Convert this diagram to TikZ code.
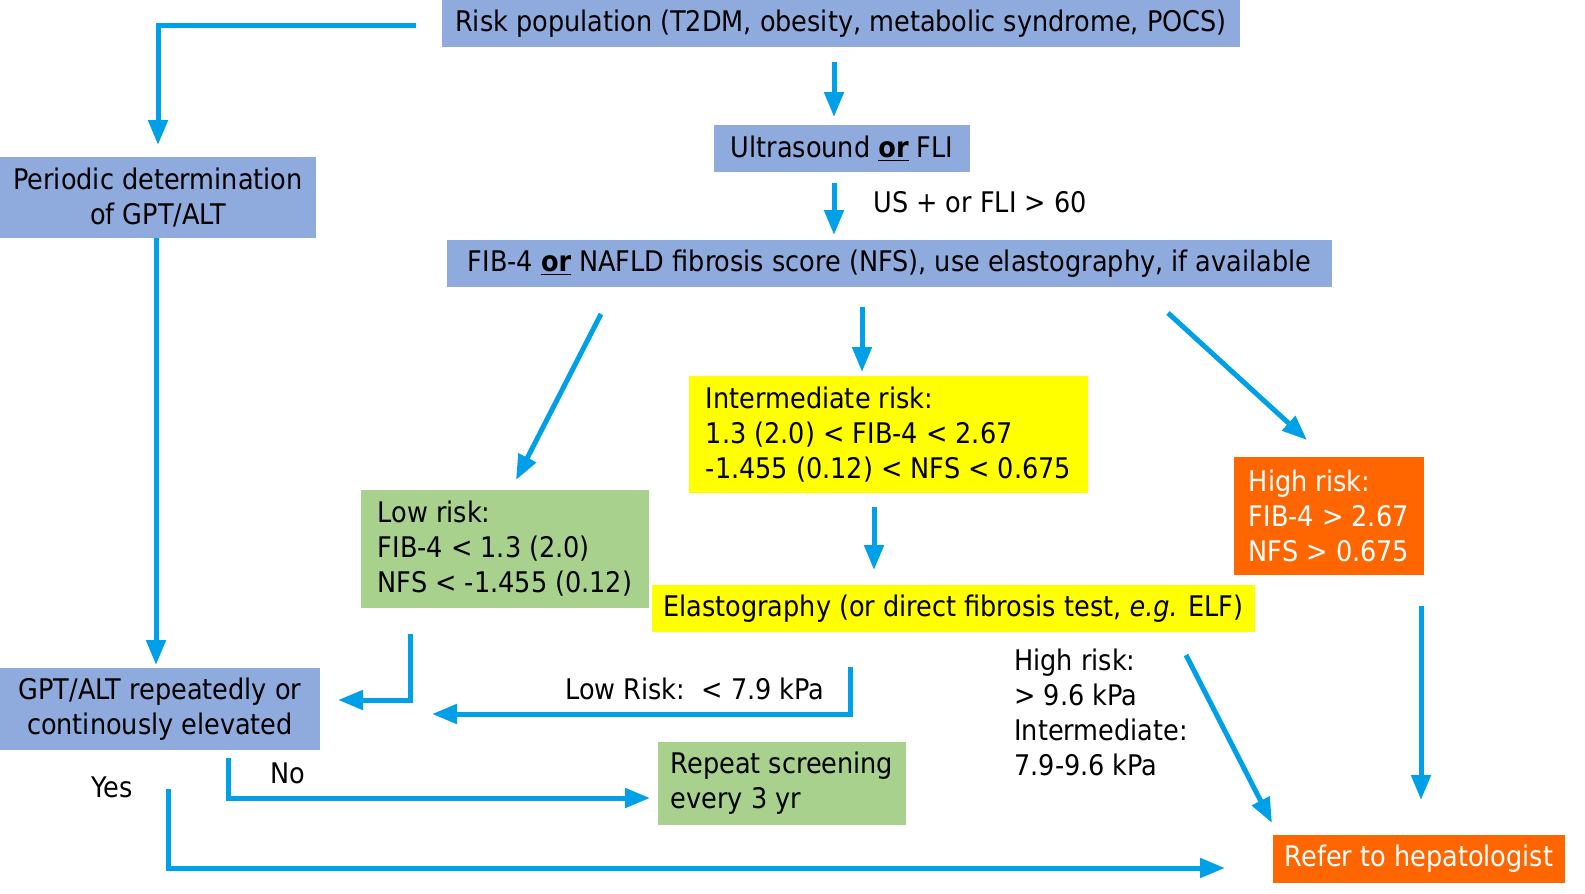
\documentclass[tikz,border=0pt]{standalone}
\usepackage{fontspec}
\setmainfont{DejaVu Sans Condensed}
\usetikzlibrary{arrows.meta,calc}
\definecolor{bbox}{HTML}{8FAADC}
\definecolor{gbox}{HTML}{A9D18E}
\definecolor{ybox}{HTML}{FFFF00}
\definecolor{obox}{HTML}{FF6600}
\definecolor{arrc}{HTML}{00A0E9}
\tikzset{
  box/.style={inner sep=0pt, outer sep=0pt, align=center, font=\fs},
  lbox/.style={inner sep=0pt, outer sep=0pt, align=left, font=\fs},
  lab/.style={inner sep=0pt, font=\fs},
  arr/.style={draw=arrc, line width=2.5pt, -{Triangle[length=12.5pt,width=9.5pt]}},
}
\newcommand{\fs}{\fontsize{14.2}{17.5}\selectfont}
\begin{document}
\begin{tikzpicture}[x=0.5pt,y=-0.5pt]
\useasboundingbox (0,0) rectangle (1585,894);
% boxes
\node[box, fill=bbox, minimum width=399pt, minimum height=23.5pt] (risk) at (841,23.5) {Risk population (T2DM, obesity, metabolic syndrome, POCS)};
\node[box, fill=bbox, minimum width=158pt, minimum height=40.5pt] (periodic) at (158,197.5) {Periodic determination\\of GPT/ALT};
\node[box, fill=bbox, minimum width=128pt, minimum height=23.5pt] (ultra) at (842,148.5) {Ultrasound \textbf{\underline{or}} FLI};
\node[box, fill=bbox, minimum width=442.5pt, minimum height=23.5pt] (fib) at (889.5,263.5) {FIB-4 \textbf{\underline{or}} NAFLD fibrosis score (NFS), use elastography, if available};
\node[lbox, fill=ybox, minimum width=199.5pt, minimum height=58.5pt] (inter) at (888.5,434.5) {Intermediate risk:\\1.3 (2.0) < FIB-4 < 2.67\\-1.455 (0.12) < NFS < 0.675};
\node[lbox, fill=gbox, minimum width=144pt, minimum height=59pt] (low) at (505,549) {Low risk:\\FIB-4 < 1.3 (2.0)\\NFS < -1.455 (0.12)};
\node[lbox, fill=obox, text=white, minimum width=95pt, minimum height=59pt] (high) at (1329,516) {High risk:\\FIB-4 > 2.67\\NFS > 0.675};
\node[box, fill=ybox, minimum width=301.5pt, minimum height=23.5pt] (elast) at (953.5,608.5) {Elastography (or direct fibrosis test, \textit{e.g.} ELF)};
\node[box, fill=bbox, minimum width=160pt, minimum height=41pt] (gpt) at (160,709) {GPT/ALT repeatedly or\\continously elevated};
\node[lbox, fill=gbox, minimum width=124pt, minimum height=41.5pt] (rep) at (782,783.5) {Repeat screening\\every 3 yr};
\node[box, fill=obox, text=white, minimum width=146pt, minimum height=24pt] (refer) at (1419,859) {Refer to hepatologist};
% labels
\node[lab, anchor=west] (uslab) at (873,202) {US + or FLI > 60};
\node[lab, anchor=west] (lowlab) at (565,689) {Low Risk:~~< 7.9 kPa};
\node[lab, anchor=north west, align=left] (hilab) at (1014,649) {High risk:\\> 9.6 kPa\\Intermediate:\\7.9-9.6 kPa};
\node[lab] (yes) at (112,787) {Yes};
\node[lab] (no) at (288,773) {No};
% arrows
\draw[arr] ($(risk.west)+(-26,1.5)$) -| ($(periodic.north)+(0,-12)$);
\draw[arr] ($(risk.south)+(-7,15)$) -- ($(ultra.north)+(-8,-8)$);
\draw[arr] ($(ultra.south)+(-8,11)$) -- ($(fib.north)+(-55.5,-5)$);
\draw[arr] ($(periodic.south)+(-2,0)$) -- ($(gpt.north)+(-4,-3)$);
\draw[arr] ($(fib.south)+(-288.5,27)$) -- ($(low.north)+(11,-10)$);
\draw[arr] ($(fib.south)+(-27.5,20)$) -- ($(inter.north)+(-26.5,-4)$);
\draw[arr] ($(fib.south)+(278.5,26)$) -- ($(high.north)+(-22,-17)$);
\draw[arr] ($(inter.south)+(-14.5,14)$) -- ($(elast.north)+(-79.5,-15)$);
\draw[arr] ($(low.south)+(-95,26)$) |- ($(gpt.east)+(18,-9)$);
\draw[arr] ($(elast.south)+(-103.5,35)$) |- ($(gpt.east)+(112,5)$);
\draw[arr] ($(gpt.south)+(68,8)$) |- ($(rep.west)+(-8,14.5)$);
\draw[arr] ($(gpt.south)+(8,39)$) |- ($(refer.west)+(-48,9)$);
\draw[arr] ($(elast.south)+(232.5,23)$) -- ($(refer.north)+(-147,-12)$);
\draw[arr] ($(high.south)+(92,31)$) -- ($(refer.north)+(2,-35)$);
\end{tikzpicture}
\end{document}
